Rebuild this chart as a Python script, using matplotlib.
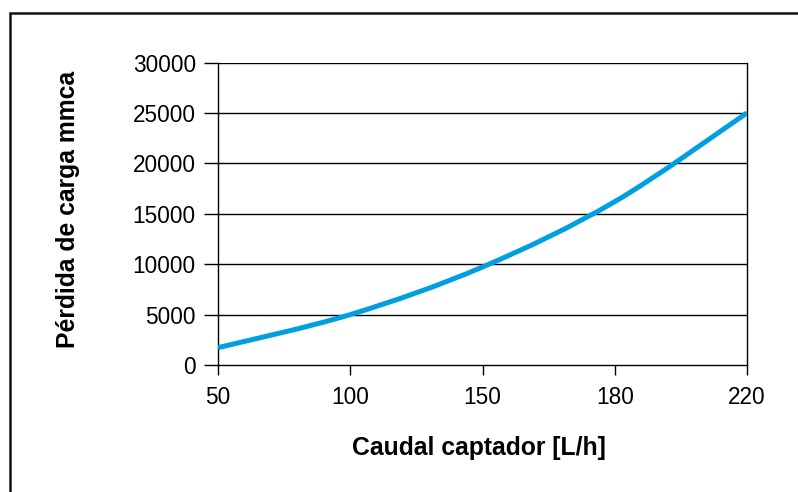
import matplotlib
matplotlib.use('Agg')
import numpy as np
from matplotlib import pyplot as plt
from matplotlib.path import Path
from matplotlib.patches import PathPatch, Rectangle

# caudal del captador [L/h] y pérdida de carga [mmca]
caudal = ['50', '100', '150', '180', '220']
perdida = [1720, 5000, 9720, 16200, 25000]
y_ticks = [0, 5000, 10000, 15000, 20000, 25000, 30000]

plt.rcParams['font.family'] = ['Liberation Sans', 'DejaVu Sans']


def smooth_path(xs, ys):
    # curva suavizada tipo Catmull-Rom convertida a Bezier cúbicas
    pts = np.column_stack([xs, ys]).astype(float)
    verts = [pts[0]]
    codes = [Path.MOVETO]
    n = len(pts)
    for i in range(n - 1):
        p0 = pts[i - 1] if i > 0 else pts[i]
        p1 = pts[i]
        p2 = pts[i + 1]
        p3 = pts[i + 2] if i + 2 < n else pts[i + 1]
        c1 = p1 + (p2 - p0) / 6.0
        c2 = p2 - (p3 - p1) / 6.0
        verts += [c1, c2, p2]
        codes += [Path.CURVE4] * 3
    return Path(verts, codes)


def create_chart():
    fig = plt.figure(figsize=(7.98, 4.92), dpi=100)
    ax = fig.add_axes([218 / 798, 1 - 365 / 492, 529 / 798, 302.5 / 492])

    x = np.arange(len(caudal))
    ax.add_patch(PathPatch(smooth_path(x, perdida), fill=False,
                           edgecolor='#00a0e0', lw=3.6, capstyle='butt',
                           zorder=3))

    ax.set_xlim(0, len(caudal) - 1)
    ax.set_ylim(0, 30000)
    ax.set_xticks(x)
    ax.set_xticklabels(caudal)
    ax.set_yticks(y_ticks)
    for v in y_ticks[1:]:
        ax.axhline(v, color='black', lw=1.0, zorder=1)

    for s in ax.spines.values():
        s.set_color('black')
        s.set_linewidth(1.0)
    ax.spines['top'].set_visible(False)

    ax.tick_params(axis='both', direction='out', length=7, width=1.0,
                   colors='black', labelsize=16.3)
    ax.tick_params(axis='y', length=10, pad=6)
    ax.tick_params(axis='x', pad=8)

    ax.set_xlabel('Caudal captador [L/h]', fontsize=17.8, fontweight='bold',
                  va='center')
    ax.set_ylabel('Pérdida de carga mmca', fontsize=17.8, fontweight='bold',
                  va='center')
    ax.xaxis.set_label_coords(0.494, -0.274)
    ax.yaxis.set_label_coords(-0.2836, 0.515)

    # marco exterior del gráfico
    fig.patches.append(Rectangle((9.5 / 798, -0.2), 1.2, 1.2 - 12.5 / 492,
                                 transform=fig.transFigure, fill=False,
                                 edgecolor='#111111', lw=1.8))

    fig.savefig('out.png', dpi=100)


if __name__ == '__main__':
    create_chart()
